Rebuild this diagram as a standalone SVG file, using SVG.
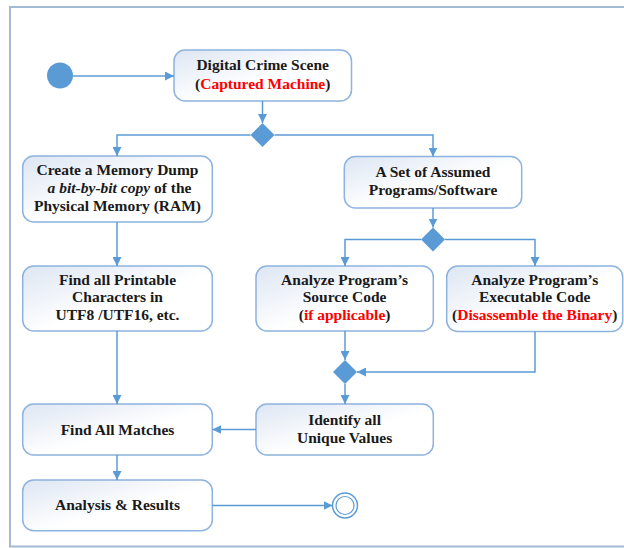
<svg xmlns="http://www.w3.org/2000/svg" width="624" height="548" viewBox="0 0 624 548">
<defs>
<linearGradient id="bg" x1="0" y1="0" x2="1" y2="1">
<stop offset="0" stop-color="#dde6f3"/>
<stop offset="0.55" stop-color="#ffffff"/>
<stop offset="1" stop-color="#ffffff"/>
</linearGradient>
<marker id="ah" viewBox="0 0 10 10" refX="10" refY="5" markerWidth="9" markerHeight="9" markerUnits="userSpaceOnUse" orient="auto">
<path d="M0,0 L10,5 L0,10 z" fill="#5b9bd5"/>
</marker>
</defs>
<style>
.box{fill:url(#bg);stroke:#8db3de;stroke-width:1.5}
.t{font-family:"Liberation Serif","Times New Roman",serif;font-size:15.5px;font-weight:bold;fill:#1a1a1a;text-anchor:middle}
.r{fill:#ff0000}
.c{fill:none;stroke:#5b9bd5;stroke-width:1.5}
.ca{fill:none;stroke:#5b9bd5;stroke-width:1.5;marker-end:url(#ah)}
.dia{fill:#5b9bd5}
</style>
<rect width="624" height="548" fill="#ffffff"/>
<rect x="10" y="7" width="640" height="539.5" fill="none" stroke="#a3bad6" stroke-width="2"/>

<g id="start"><circle cx="60" cy="75.5" r="13" fill="#5b9bd5"/></g>

<g id="n1">
<rect class="box" x="174" y="50" width="177.5" height="51" rx="11"/>
<text class="t" x="262.7" y="69.5">Digital Crime Scene</text>
<text class="t" x="262.7" y="88.5">(<tspan class="r">Captured Machine</tspan>)</text>
</g>

<g id="d1"><path class="dia" d="M262.5,123 L274.5,135 L262.5,147 L250.5,135 z"/></g>

<g id="n2">
<rect class="box" x="22.7" y="156" width="189.6" height="66" rx="11"/>
<text class="t" x="117.5" y="175">Create a Memory Dump</text>
<text class="t" x="119.5" y="193"><tspan font-style="italic">a bit-by-bit copy</tspan> of the</text>
<text class="t" x="117.5" y="211">Physical Memory (RAM)</text>
</g>

<g id="n3">
<rect class="box" x="22.7" y="266" width="189.6" height="65" rx="11"/>
<text class="t" x="117.5" y="285">Find all Printable</text>
<text class="t" x="117.5" y="302">Characters in</text>
<text class="t" x="117.5" y="319.5">UTF8 /UTF16, etc.</text>
</g>

<g id="n4">
<rect class="box" x="344.3" y="156.5" width="177.4" height="51.5" rx="11"/>
<text class="t" x="433" y="177">A Set of Assumed</text>
<text class="t" x="433" y="195">Programs/Software</text>
</g>

<g id="d2"><path class="dia" d="M433,227.5 L445,239.5 L433,251.5 L421,239.5 z"/></g>

<g id="n5">
<rect class="box" x="256" y="266" width="177.3" height="65" rx="11"/>
<text class="t" x="344.6" y="285">Analyze Program’s</text>
<text class="t" x="344.6" y="302">Source Code</text>
<text class="t" x="344.6" y="319.5">(<tspan class="r">if applicable</tspan>)</text>
</g>

<g id="n6">
<rect class="box" x="446.7" y="266" width="176" height="65.5" rx="11"/>
<text class="t" x="534.7" y="285">Analyze Program’s</text>
<text class="t" x="534.7" y="302">Executable Code</text>
<text class="t" x="534.7" y="319.5">(<tspan class="r">Disassemble the Binary</tspan>)</text>
</g>

<g id="d3"><path class="dia" d="M345,360 L357,372 L345,384 L333,372 z"/></g>

<g id="n7">
<rect class="box" x="256" y="404" width="177.3" height="51" rx="11"/>
<text class="t" x="344.6" y="425">Identify all</text>
<text class="t" x="344.6" y="443">Unique Values</text>
</g>

<g id="n8">
<rect class="box" x="22.7" y="404" width="189.6" height="51" rx="11"/>
<text class="t" x="117.5" y="434.5">Find All Matches</text>
</g>

<g id="n9">
<rect class="box" x="22.7" y="480" width="189.6" height="50.7" rx="11"/>
<text class="t" x="117.5" y="509.5">Analysis &amp; Results</text>
</g>

<g id="end">
<circle cx="345" cy="505.5" r="12.5" fill="#ffffff" stroke="#5b9bd5" stroke-width="1.5"/>
<circle cx="345" cy="505.5" r="9" fill="none" stroke="#5b9bd5" stroke-width="1.2"/>
</g>

<g id="connectors">
<path class="ca" d="M73,76 L174,76"/>
<path class="ca" d="M262.5,101 L262.5,123"/>
<path class="ca" d="M250.5,135 L117,135 L117,156"/>
<path class="ca" d="M274.5,135 L433,135 L433,156.5"/>
<path class="ca" d="M117,222 L117,266"/>
<path class="ca" d="M433,208 L433,227.5"/>
<path class="ca" d="M421,239.5 L345,239.5 L345,266"/>
<path class="ca" d="M445,239.5 L535,239.5 L535,266"/>
<path class="ca" d="M117,331 L117,404"/>
<path class="ca" d="M345,331 L345,360"/>
<path class="ca" d="M535,331.5 L535,372 L357,372"/>
<path class="ca" d="M345,384 L345,404"/>
<path class="ca" d="M256,429.5 L212.3,429.5"/>
<path class="ca" d="M117,455 L117,480"/>
<path class="ca" d="M212.3,505.5 L332.5,505.5"/>
</g>
</svg>
